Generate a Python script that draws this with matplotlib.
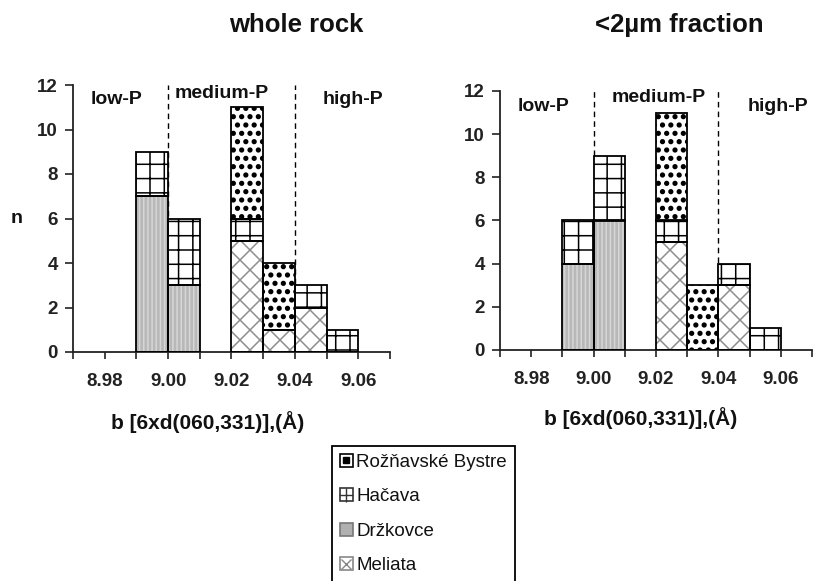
import matplotlib
matplotlib.use('Agg')
import matplotlib.pyplot as plt
import matplotlib.hatch as mhatch
from matplotlib.patches import Patch
from matplotlib.lines import Line2D
from matplotlib.legend_handler import HandlerTuple
import numpy as np

# ---- hatch tuning: bigger filled dots, per-pattern densities ----
mhatch.SmallFilledCircles.size = 0.22
_orig_get_path = mhatch.get_path
_hatch_density = {'+': 7, 'x': 10}


def _get_path(hatchpattern, density=6):
    return _orig_get_path(hatchpattern, _hatch_density.get(hatchpattern, density))


mhatch.get_path = _get_path

plt.rcParams['font.family'] = ['Liberation Sans', 'DejaVu Sans']
plt.rcParams['font.weight'] = 'bold'
plt.rcParams['hatch.linewidth'] = 1.1

# ---------------- data ----------------
bin_left = [8.99, 9.00, 9.02, 9.03, 9.04, 9.05]
bin_width = 0.01
series_names = ['Meliata', 'Držkovce', 'Hačava', 'Rožňavské Bystre']  # bottom -> top

whole_meliata = [0, 0, 5, 1, 2, 0]
whole_drzkovce = [7, 3, 0, 0, 0, 0]
whole_hacava = [2, 3, 1, 0, 1, 1]
whole_roznavske = [0, 0, 5, 3, 0, 0]

frac_meliata = [0, 0, 5, 0, 3, 0]
frac_drzkovce = [4, 6, 0, 0, 0, 0]
frac_hacava = [2, 3, 1, 0, 1, 1]
frac_roznavske = [0, 0, 5, 3, 0, 0]

xtick_major = [8.98, 9.00, 9.02, 9.04, 9.06]
xtick_labels = ['8.98', '9.00', '9.02', '9.04', '9.06']
xtick_minor = [8.97, 8.99, 9.01, 9.03, 9.05, 9.07]
ytick_values = [0, 2, 4, 6, 8, 10, 12]
boundaries = [9.00, 9.04]
region_labels = ['low-P', 'medium-P', 'high-P']
panel_titles = ['whole rock', '<2µm fraction']
xlabel_text = 'b [6xd(060,331)],(Å)'
legend_order = ['Rožňavské Bystre', 'Hačava', 'Držkovce', 'Meliata']

# ---------------- styles ----------------
styles = {
    'Meliata': dict(face='white', hatch='x', hcolor='#8e8e8e'),
    'Držkovce': dict(face='#b8b8b8', hatch='||||', hcolor='#d6d6d6'),
    'Hačava': dict(face='white', hatch='+', hcolor='black'),
    'Rožňavské Bystre': dict(face='white', hatch='..', hcolor='black'),
}

W, H = 834, 581
fig = plt.figure(figsize=(W / 100, H / 100), dpi=100)


def fx(px):
    return px / W


def fy(py):
    return 1 - py / H


ax1 = fig.add_axes([fx(73), fy(352), fx(390) - fx(73), fy(85) - fy(352)])
ax2 = fig.add_axes([fx(500), fy(350), fx(812) - fx(500), fy(91) - fy(350)])


def draw_panel(ax, values_list, label_pos):
    bottom = np.zeros(len(bin_left))
    xs = np.array(bin_left)
    for name, vals in zip(series_names, values_list):
        vals = np.array(vals, float)
        m = vals > 0
        st = styles[name]
        ax.bar(xs[m], vals[m], width=bin_width, bottom=bottom[m], align='edge',
               color=st['face'], hatch=st['hatch'], edgecolor=st['hcolor'],
               linewidth=0, zorder=2)
        ax.bar(xs[m], vals[m], width=bin_width, bottom=bottom[m], align='edge',
               fill=False, edgecolor='black', linewidth=1.3, zorder=3)
        bottom += vals
    ax.vlines(boundaries, 0, 12, colors='black', linestyles=(0, (4, 3)),
              linewidth=1.0, zorder=1)
    for txt, (x, y) in zip(region_labels, label_pos):
        ax.text(x, y, txt, ha='center', va='center', fontsize=14,
                fontweight='bold', color='#111111')
    ax.set_xlim(8.97, 9.07)
    ax.set_ylim(0, 12)
    ax.set_xticks(xtick_major)
    ax.set_xticklabels(xtick_labels)
    ax.set_xticks(xtick_minor, minor=True)
    ax.set_yticks(ytick_values)
    ax.tick_params(axis='x', which='both', direction='out', length=5,
                   width=1.2, pad=10, labelsize=13.5, colors='#222222')
    ax.tick_params(axis='y', direction='out', length=6, width=1.2, pad=5,
                   labelsize=13.5, colors='#222222')
    for s in ['top', 'right']:
        ax.spines[s].set_visible(False)
    for s in ['left', 'bottom']:
        ax.spines[s].set_linewidth(1.3)
        ax.spines[s].set_color('#222222')
    ax.patch.set_alpha(0)


draw_panel(ax1, [whole_meliata, whole_drzkovce, whole_hacava, whole_roznavske],
           [(8.9836, 11.33), (9.0170, 11.64), (9.0583, 11.33)])
draw_panel(ax2, [frac_meliata, frac_drzkovce, frac_hacava, frac_roznavske],
           [(8.9838, 11.26), (9.0210, 11.72), (9.0592, 11.26)])

# titles
fig.text(fx(296), fy(25), panel_titles[0], ha='center', va='center',
         fontsize=18.5, fontweight='bold', color='#111111')
fig.text(fx(679), fy(25), panel_titles[1], ha='center', va='center',
         fontsize=18.5, fontweight='bold', color='#111111')

# x labels
fig.text(fx(208), fy(422), xlabel_text, ha='center', va='center',
         fontsize=15, fontweight='bold', color='#111111')
fig.text(fx(641), fy(418), xlabel_text, ha='center', va='center',
         fontsize=15, fontweight='bold', color='#111111')

# y label
fig.text(fx(17), fy(218), 'n', ha='center', va='center', fontsize=14,
         fontweight='bold', color='#111111')


# legend: small boxed symbols
def sq(**kw):
    return Patch(linewidth=1.2, **kw)


handles = [
    (sq(facecolor='white', edgecolor='black'),
     Line2D([], [], linestyle='none', marker='s', markersize=4.0,
            markerfacecolor='black', markeredgecolor='black')),
    (sq(facecolor='white', edgecolor='#333333'),
     Line2D([], [], linestyle='none', marker='+', markersize=9.5,
            markeredgewidth=1.0, color='#333333')),
    (sq(facecolor='#b0b0b0', edgecolor='#777777'),),
    (sq(facecolor='white', edgecolor='#888888'),
     Line2D([], [], linestyle='none', marker='x', markersize=7.0,
            markeredgewidth=1.0, color='#888888')),
]
leg = fig.legend(handles, legend_order, loc='upper left',
                 handler_map={tuple: HandlerTuple(ndivide=1, pad=0)},
                 bbox_to_anchor=(fx(332), fy(446)), bbox_transform=fig.transFigure,
                 frameon=True, fancybox=False, framealpha=1, edgecolor='black',
                 prop=dict(size=13.5, weight='normal'), handlelength=0.7,
                 handleheight=0.7, handletextpad=0.2, labelspacing=0.93,
                 borderpad=0.4, borderaxespad=0)
leg.get_frame().set_linewidth(1.3)
for t in leg.get_texts():
    t.set_color('#111111')

fig.savefig('out.png', dpi=100)
